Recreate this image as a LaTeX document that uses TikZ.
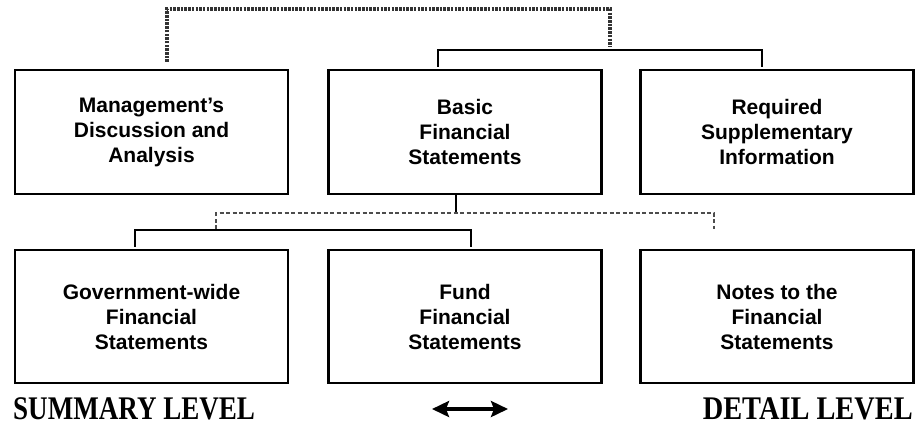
\documentclass[tikz,border=0pt]{standalone}
\usepackage{fontspec}
\usepackage{graphicx}
\setmainfont{Liberation Serif}
\newfontfamily\sansf{Liberation Sans}
\usetikzlibrary{arrows.meta}
\tikzset{bigtip/.tip={Stealth[length=17pt,width=16pt,inset=3pt]}}
\begin{document}
\begin{tikzpicture}[x=1pt,y=-1pt,
  box/.style={draw, line width=2.2pt, minimum width=273pt, align=center, inner sep=0pt,
    font=\sansf\bfseries\fontsize{21}{25}\selectfont},
  toprow/.style={box, minimum height=124pt},
  botrow/.style={box, minimum height=133pt},
  conn/.style={line width=2.2pt, shorten <=2pt, shorten >=2pt},
  dashA/.style={line width=3.2pt, black!80, dash pattern=on 2.5pt off 1.2pt},
  dashB/.style={line width=2.3pt, black!70, dash pattern=on 4pt off 2.5pt},
  lvl/.style={inner sep=0pt, font=\bfseries\fontsize{33}{36}\selectfont}]
\useasboundingbox (0,0) rectangle (917,424);
\fill[white] (0,0) rectangle (917,424);
% top row
\node[toprow] (b1) at (151.5,132) {Management’s\\Discussion and\\Analysis};
\node[toprow] (b2) at (465,132) {Basic\\Financial\\Statements};
\node[toprow] (b3) at (777,132) {Required\\Supplementary\\Information};
% bottom row
\node[botrow] (b4) at (151.5,316.5) {Government-wide\\Financial\\Statements};
\node[botrow] (b5) at (465,316.5) {Fund\\Financial\\Statements};
\node[botrow] (b6) at (777,316.5) {Notes to the\\Financial\\Statements};
% top connectors
\coordinate (d1) at (167,9);
\coordinate (d2) at (610,9);
\coordinate (d2e) at (610,47);
\draw[dashA, shorten <=7pt] (b1.north -| d1) -- (d1) -- (d2) -- (d2e);
\coordinate (s1) at (438,50);
\coordinate (s2) at (762,50);
\draw[conn] (b2.north -| s1) -- (s1) -- (s2) -- (b3.north -| s2);
% bottom connectors
\coordinate (v) at (456,213);
\draw[line width=2.2pt] (b2.south -| v) -- (v);
\coordinate (e1) at (216,229);
\coordinate (e2) at (216,213);
\coordinate (e3) at (714,213);
\coordinate (e4) at (714,229);
\draw[dashB] (e1) -- (e2) -- (e3) -- (e4);
\coordinate (a1) at (135,230);
\coordinate (a2) at (471,230);
\draw[conn] (b4.north -| a1) -- (a1) -- (a2) -- (b5.north -| a2);
% level labels
\node[lvl, anchor=base west] (sum) at (13,419) {\scalebox{0.82}[1]{SUMMARY LEVEL}};
\node[lvl, anchor=base east] (det) at (913,419) {\scalebox{0.86}[1]{DETAIL LEVEL}};
\coordinate (arrL) at (432,409);
\coordinate (arrR) at (508,409);
\draw[line width=4pt, bigtip-bigtip] (arrL) -- (arrR);
\end{tikzpicture}
\end{document}
